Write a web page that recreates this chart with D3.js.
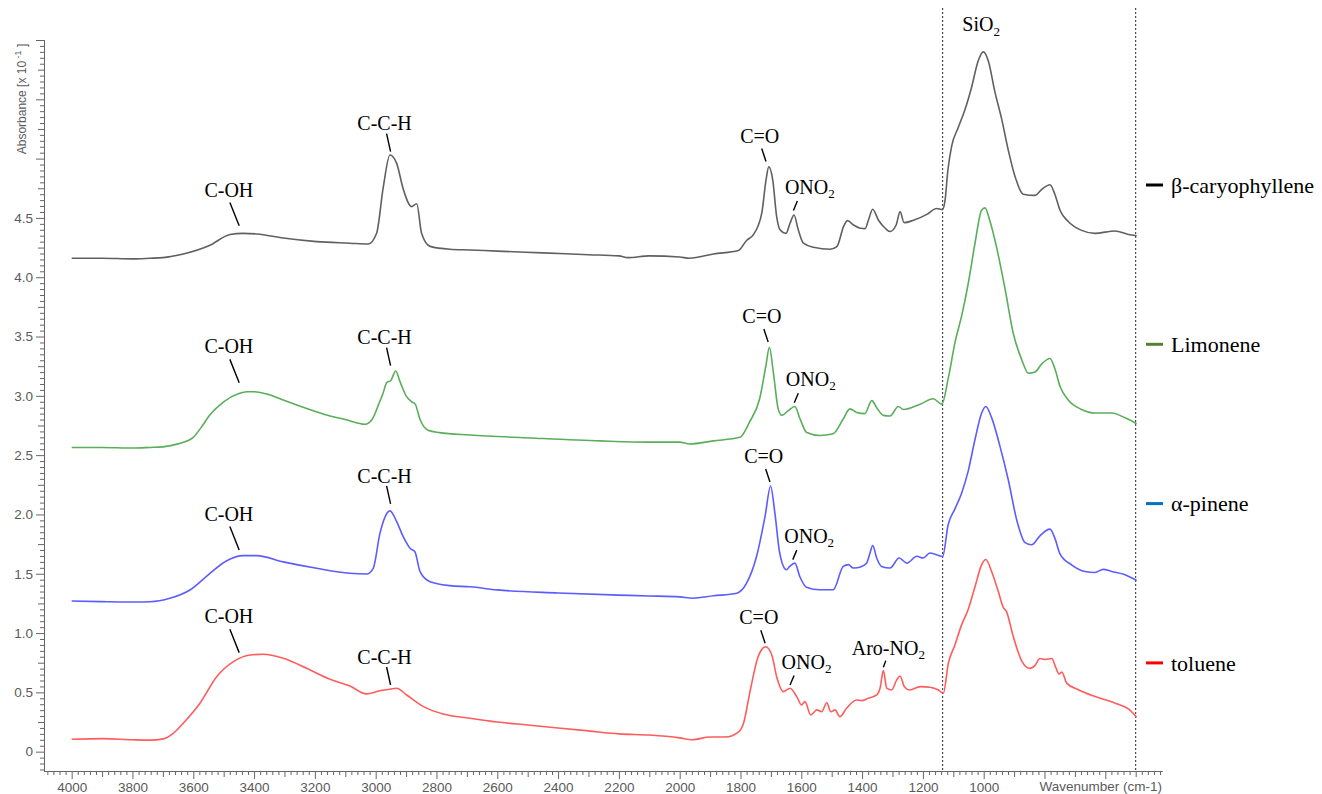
<!DOCTYPE html>
<html><head><meta charset="utf-8">
<script src="https://cdn.jsdelivr.net/npm/d3@7"></script>
<style>body{margin:0;background:#fff;} svg{display:block;}</style>
</head><body>
<svg id="chart" width="1322" height="794"></svg>
<script>
// ---- data: [wavenumber (cm-1), absorbance (x10^-1)] ----
const caryophyllene = [[4000,4.16],[3900,4.16],[3800,4.155],[3742,4.16],[3700,4.165],[3633,4.196],[3545,4.27],[3479,4.36],[3436,4.37],[3391,4.365],[3304,4.33],[3194,4.30],[3085,4.287],[3024,4.28],[2997,4.37],[2975,4.76],[2953,5.03],[2931,4.96],[2909,4.74],[2882,4.595],[2865,4.62],[2849,4.37],[2821,4.26],[2756,4.236],[2690,4.23],[2600,4.22],[2450,4.205],[2300,4.19],[2200,4.18],[2170,4.165],[2100,4.18],[2000,4.17],[1967,4.16],[1889,4.196],[1807,4.225],[1780,4.31],[1758,4.357],[1730,4.54],[1716,4.82],[1707,4.93],[1694,4.82],[1681,4.51],[1670,4.40],[1650,4.37],[1637,4.455],[1624,4.525],[1610,4.40],[1593,4.287],[1560,4.253],[1505,4.236],[1483,4.258],[1461,4.427],[1448,4.477],[1428,4.44],[1406,4.413],[1390,4.41],[1379,4.483],[1365,4.573],[1346,4.48],[1324,4.413],[1308,4.385],[1288,4.44],[1275,4.553],[1262,4.46],[1231,4.48],[1187,4.53],[1155,4.58],[1136,4.57],[1127,4.65],[1118,4.90],[1105,5.11],[1084,5.26],[1062,5.41],[1040,5.60],[1018,5.825],[1001,5.90],[985,5.825],[963,5.56],[941,5.335],[919,5.07],[897,4.85],[870,4.70],[831,4.69],[809,4.74],[782,4.78],[766,4.70],[749,4.565],[722,4.47],[678,4.395],[634,4.37],[568,4.39],[524,4.36],[497,4.35]];

const limonene = [[4000,2.565],[3900,2.565],[3800,2.56],[3742,2.565],[3700,2.57],[3650,2.595],[3600,2.65],[3575,2.73],[3545,2.84],[3500,2.95],[3450,3.02],[3424,3.035],[3400,3.035],[3350,3.01],[3304,2.965],[3200,2.87],[3150,2.83],[3100,2.80],[3035,2.76],[3012,2.80],[2990,2.93],[2976,3.02],[2964,3.11],[2950,3.13],[2934,3.21],[2920,3.12],[2900,3.00],[2882,2.95],[2870,2.93],[2854,2.80],[2828,2.71],[2790,2.69],[2690,2.67],[2490,2.645],[2260,2.62],[2100,2.61],[2000,2.61],[1967,2.594],[1889,2.62],[1802,2.65],[1770,2.78],[1737,2.975],[1716,3.26],[1705,3.41],[1692,3.20],[1676,2.89],[1664,2.835],[1643,2.875],[1621,2.91],[1604,2.805],[1582,2.69],[1539,2.665],[1495,2.68],[1462,2.805],[1440,2.89],[1418,2.86],[1391,2.85],[1368,2.96],[1352,2.90],[1330,2.835],[1308,2.83],[1281,2.91],[1264,2.885],[1209,2.93],[1166,2.975],[1138,2.93],[1116,3.155],[1094,3.455],[1072,3.68],[1051,3.945],[1029,4.28],[1007,4.565],[996,4.585],[979,4.47],[957,4.245],[930,3.905],[903,3.53],[875,3.305],[853,3.19],[831,3.20],[809,3.27],[782,3.315],[766,3.23],[749,3.08],[722,2.965],[678,2.885],[634,2.855],[579,2.855],[535,2.815],[497,2.765]];

const pinene = [[4000,1.27],[3900,1.265],[3800,1.262],[3742,1.264],[3677,1.293],[3611,1.363],[3545,1.504],[3490,1.61],[3436,1.653],[3391,1.653],[3304,1.60],[3194,1.546],[3085,1.504],[3030,1.498],[3008,1.546],[2986,1.84],[2969,1.98],[2953,2.03],[2931,1.94],[2909,1.81],[2887,1.715],[2871,1.686],[2854,1.518],[2821,1.433],[2756,1.40],[2690,1.39],[2600,1.364],[2400,1.338],[2200,1.32],[2100,1.313],[2000,1.305],[1957,1.294],[1889,1.314],[1812,1.336],[1780,1.42],[1747,1.647],[1719,1.986],[1701,2.24],[1687,2.015],[1671,1.675],[1649,1.534],[1638,1.562],[1621,1.59],[1605,1.477],[1583,1.387],[1539,1.365],[1495,1.365],[1462,1.562],[1445,1.577],[1429,1.548],[1401,1.562],[1385,1.59],[1374,1.675],[1365,1.738],[1352,1.633],[1336,1.562],[1308,1.548],[1278,1.633],[1253,1.59],[1220,1.647],[1199,1.633],[1177,1.675],[1155,1.66],[1135,1.647],[1117,1.913],[1095,2.045],[1073,2.177],[1051,2.365],[1029,2.628],[1007,2.853],[993,2.91],[974,2.816],[946,2.57],[919,2.29],[891,1.95],[864,1.763],[842,1.745],[815,1.82],[782,1.876],[766,1.80],[749,1.668],[711,1.575],[667,1.519],[634,1.511],[607,1.537],[579,1.519],[535,1.492],[497,1.443]];

const toluene = [[4000,0.105],[3900,0.11],[3800,0.10],[3742,0.097],[3699,0.108],[3666,0.155],[3633,0.24],[3578,0.408],[3523,0.632],[3468,0.759],[3413,0.815],[3370,0.821],[3304,0.787],[3227,0.703],[3150,0.61],[3085,0.554],[3030,0.487],[2986,0.514],[2953,0.526],[2931,0.535],[2898,0.478],[2843,0.38],[2778,0.318],[2690,0.282],[2600,0.25],[2500,0.225],[2400,0.20],[2300,0.175],[2200,0.15],[2100,0.14],[2000,0.116],[1960,0.10],[1900,0.124],[1850,0.124],[1805,0.17],[1790,0.24],[1770,0.49],[1742,0.80],[1717,0.885],[1697,0.815],[1681,0.632],[1659,0.506],[1637,0.535],[1615,0.464],[1599,0.394],[1588,0.422],[1569,0.31],[1549,0.352],[1533,0.337],[1516,0.413],[1503,0.337],[1489,0.352],[1473,0.295],[1451,0.366],[1418,0.436],[1401,0.43],[1380,0.45],[1352,0.478],[1341,0.535],[1330,0.683],[1319,0.535],[1303,0.52],[1286,0.605],[1275,0.638],[1261,0.548],[1243,0.52],[1209,0.548],[1177,0.543],[1149,0.52],[1133,0.492],[1116,0.748],[1095,0.898],[1073,1.067],[1051,1.199],[1029,1.387],[1007,1.575],[993,1.62],[974,1.519],[952,1.35],[936,1.218],[925,1.18],[903,0.973],[875,0.766],[848,0.702],[831,0.728],[815,0.785],[798,0.777],[776,0.785],[763,0.71],[752,0.653],[743,0.672],[727,0.578],[689,0.522],[634,0.465],[568,0.409],[524,0.36],[497,0.29]];

const seriesNames = ["β-caryophyllene","Limonene","α-pinene","toluene"];
const seriesData = [caryophyllene, limonene, pinene, toluene];
const lineColors = ["#606060","#5aae5a","#5c5cff","#ff5c5c"];
const legendColors = ["#000000","#548235","#0070c0","#ff0000"];

const xMajorTicks = [4000,3800,3600,3400,3200,3000,2800,2600,2400,2200,2000,1800,1600,1400,1200,1000,800,600];
const xTickLabels = ["4000","3800","3600","3400","3200","3000","2800","2600","2400","2200","2000","1800","1600","1400","1200","1000","",""];
const yMajorTicks = [0,0.5,1.0,1.5,2.0,2.5,3.0,3.5,4.0,4.5,5.0,5.5,6.0];
const yTickLabels = ["0","0.5","1.0","1.5","2.0","2.5","3.0","3.5","4.0","4.5","","",""];

// SiO2 band limits (cm-1)
const sio2Band = [1135, 500];

// annotations: series index, label, leader tip [wavenumber, absorbance], kind
const annotations = [
  [0,"C-OH",3449,4.433,"oh"],[0,"C-C-H",2951,5.059,"ch"],[0,"C=O",1716,4.975,"co"],[0,"ONO2",1626,4.562,"ono"],
  [1,"C-OH",3449,3.111,"oh"],[1,"C-C-H",2951,3.255,"ch"],[1,"C=O",1709,3.454,"co"],[1,"ONO2",1623,2.941,"ono"],
  [2,"C-OH",3449,1.701,"oh"],[2,"C-C-H",2951,2.089,"ch"],[2,"C=O",1703,2.274,"co"],[2,"ONO2",1628,1.619,"ono"],
  [3,"C-OH",3449,0.835,"oh"],[3,"C-C-H",2951,0.562,"ch"],[3,"C=O",1719,0.914,"co"],[3,"ONO2",1637,0.562,"ono"],[3,"Aro-NO2",1330,0.712,"aro"]
];

// ---- drawing ----
const svg = d3.select("#chart");
const x = d3.scaleLinear().domain([4091, 413.5]).range([44, 1162]);
const y = d3.scaleLinear().domain([-0.163, 6.0]).range([771, 40]);
const axisColor = "#666", textColor = "#5a5a5a";
const sansFont = "'Liberation Sans', Arial, sans-serif";
const serifFont = "'Liberation Serif', 'Times New Roman', serif";

// x axis minor / medium ticks
const xMinor = d3.range(4080, 419, -20).filter(v => v % 100 !== 0);
const xMedium = d3.range(4000, 419, -100).filter(v => v % 200 !== 0);
const gxMinor = svg.append("g").attr("transform","translate(0,771)")
  .call(d3.axisBottom(x).tickValues(xMinor).tickSize(4).tickSizeOuter(0).tickFormat(""));
const gxMed = svg.append("g").attr("transform","translate(0,771)")
  .call(d3.axisBottom(x).tickValues(xMedium).tickSize(6).tickSizeOuter(0).tickFormat(""));
const gx = svg.append("g").attr("transform","translate(0,771)")
  .call(d3.axisBottom(x).tickValues(xMajorTicks).tickSize(8).tickSizeOuter(0)
    .tickFormat((d,i) => xTickLabels[i]));

// y axis
const yMinor = d3.range(-3, 121).map(i => +(i*0.05).toFixed(2)).filter(v => Math.round(v*100) % 25 !== 0);
const yMedium = d3.range(0, 25).map(i => +(i*0.25).toFixed(2)).filter(v => Math.round(v*100) % 50 !== 0);
const gyMinor = svg.append("g").attr("transform","translate(44,0)")
  .call(d3.axisLeft(y).tickValues(yMinor).tickSize(4).tickSizeOuter(0).tickFormat(""));
const gyMed = svg.append("g").attr("transform","translate(44,0)")
  .call(d3.axisLeft(y).tickValues(yMedium).tickSize(6).tickSizeOuter(0).tickFormat(""));
const gy = svg.append("g").attr("transform","translate(44,0)")
  .call(d3.axisLeft(y).tickValues(yMajorTicks).tickSize(8).tickSizeOuter(0)
    .tickFormat((d,i) => yTickLabels[i]));

[gxMinor,gxMed,gx,gyMinor,gyMed,gy].forEach(g => {
  g.selectAll("path,line").attr("stroke", axisColor).attr("stroke-width", 1);
  g.selectAll("text").attr("fill", textColor).style("font-family", sansFont).style("font-size","13.5px");
});

// axis titles
svg.append("text").attr("x",1162).attr("y",791).attr("text-anchor","end")
  .style("font-family",sansFont).style("font-size","13.5px").attr("fill",textColor)
  .text("Wavenumber (cm-1)");
const yt = svg.append("text").attr("transform","translate(26,99) rotate(-90)")
  .attr("text-anchor","middle").style("font-family",sansFont).style("font-size","12px").attr("fill",textColor);
yt.append("tspan").text("Absorbance [x 10");
yt.append("tspan").attr("dy",-5).style("font-size","9px").text(" -1");
yt.append("tspan").attr("dy",5).text(" ]");

// SiO2 band dotted lines
svg.selectAll("line.band").data(sio2Band).enter().append("line")
  .attr("x1", d => x(d)).attr("x2", d => x(d)).attr("y1", 8).attr("y2", 771)
  .attr("stroke","#222").attr("stroke-width",1).attr("stroke-dasharray","2,2");
const sio = svg.append("text").attr("x", (x(sio2Band[0]) + x(sio2Band[1]))/2 - 58).attr("y", 31)
  .attr("text-anchor","middle").style("font-family",serifFont).style("font-size","20px").attr("fill","#000");
sio.append("tspan").text("SiO");
sio.append("tspan").attr("dy",5).style("font-size","13px").text("2");

// spectra
const line = d3.line().x(d => x(d[0])).y(d => y(d[1])).curve(d3.curveMonotoneX);
seriesData.forEach((s,i) => {
  const sorted = s.slice().sort((a,b) => b[0]-a[0]);
  svg.append("path").datum(sorted).attr("d", line).attr("fill","none")
    .attr("stroke", lineColors[i]).attr("stroke-width", 1.6).attr("stroke-linejoin","round");
});

// annotations
const leader = {oh:[-9.3,-23.3], ch:[-4,-18], co:[-4.3,-13], ono:[4,-9.5], aro:[2.4,-6.6]};
annotations.forEach(a => {
  const [si, label, wn, ab, kind] = a;
  const tx = x(wn), ty = y(ab);
  const [dx, dy] = leader[kind];
  const topX = tx + dx, topY = ty + dy;
  svg.append("line").attr("x1", tx).attr("y1", ty).attr("x2", topX).attr("y2", topY)
    .attr("stroke","#000").attr("stroke-width",1.4);
  const t = svg.append("text").style("font-family",serifFont).style("font-size","20px").attr("fill","#000");
  if (kind === "ono") {
    t.attr("x", topX - 12.5).attr("y", topY - 7).attr("text-anchor","start");
    t.append("tspan").text("ONO");
    t.append("tspan").attr("dy",4).style("font-size","13px").text("2");
  } else if (kind === "aro") {
    t.attr("x", topX - 34).attr("y", topY - 5.7).attr("text-anchor","start");
    t.append("tspan").text("Aro-NO");
    t.append("tspan").attr("dy",4).style("font-size","13px").text("2");
  } else {
    const off = kind === "oh" ? [-1,-6] : kind === "ch" ? [-2,-3.3] : [-2,-6];
    t.attr("x", topX + off[0]).attr("y", topY + off[1]).attr("text-anchor","middle").text(label);
  }
});

// legend
const legendY0 = 185, legendStep = 159.3;
seriesNames.forEach((n,i) => {
  const ly = legendY0 + i*legendStep;
  svg.append("line").attr("x1",1146).attr("x2",1163).attr("y1",ly).attr("y2",ly)
    .attr("stroke",legendColors[i]).attr("stroke-width",3);
  svg.append("text").attr("x",1171).attr("y",ly).attr("dy","0.35em")
    .style("font-family",serifFont).style("font-size","22px").attr("fill","#000").text(n);
});
</script>
</body></html>
